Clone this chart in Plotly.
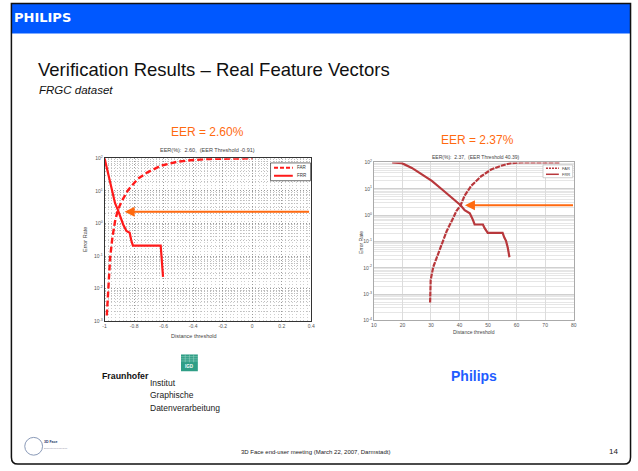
import math
import plotly.graph_objects as go

W, H = 638, 471
def px(x): return x / W
def py(y): return 1 - y / H

# ---------------- data (error rates in %) ----------------
left_thr_far = [-0.985, -0.974, -0.962, -0.947, -0.929, -0.91, -0.885, -0.841, -0.775, -0.709, -0.62, -0.51, -0.40, -0.289, -0.179, 0.0]
left_far = [0.0015, 0.019, 0.093, 0.37, 1.17, 2.6, 4.7, 10.5, 23.4, 37, 59, 78, 89, 95.5, 97.7, 100]
left_thr_frr = [-1.0, -0.974, -0.951, -0.929, -0.91, -0.89, -0.874, -0.852, -0.83, -0.819, -0.808, -0.62, -0.616, -0.612, -0.608, -0.604]
left_frr = [100, 29.5, 9.3, 4.2, 2.6, 1.48, 0.93, 0.59, 0.52, 0.30, 0.21, 0.21, 0.12, 0.06, 0.045, 0.023]

right_thr_far = [29.7, 29.9, 30.8, 32.0, 33.7, 35.5, 37.2, 38.9, 40.39, 41.8, 44.1, 47.6, 51.1, 54.6, 58.0, 61.5, 75]
right_far = [0.00048, 0.0035, 0.0107, 0.025, 0.079, 0.245, 0.575, 1.41, 2.37, 5.5, 12.9, 30, 54, 75, 94, 100, 100]
right_thr_frr = [16.4, 19.8, 23.3, 26.8, 30.3, 33.7, 37.2, 40.39, 41.8, 43.6, 44.7, 45.3, 48.2, 48.8, 49.9, 55.1, 55.7, 56.3, 56.9, 57.5]
right_frr = [100, 94, 62, 35, 20, 9.8, 4.8, 2.37, 1.55, 1.17, 0.66, 0.44, 0.44, 0.32, 0.21, 0.21, 0.14, 0.105, 0.059, 0.025]

left_eer, left_eer_thr = 2.60, -0.91
right_eer, right_eer_thr = 2.37, 40.39

left_yticks = [1e-3, 1e-2, 1e-1, 1, 10, 100]
left_ytext = ["10<sup>-3</sup>", "10<sup>-2</sup>", "10<sup>-1</sup>", "10<sup>0</sup>", "10<sup>1</sup>", "10<sup>2</sup>"]
right_yticks = [1e-4, 1e-3, 1e-2, 1e-1, 1, 10, 100]
right_ytext = ["10<sup>-4</sup>"] + left_ytext
left_xticks = [-1, -0.8, -0.6, -0.4, -0.2, 0, 0.2, 0.4]
right_xticks = [10, 20, 30, 40, 50, 60, 70, 80]

FONT = "Liberation Sans, Arial, sans-serif"
RED = "#ff1a1a"
DRED = "#b8383c"
ORANGE = "#ff6a10"

fig = go.Figure()
fig.add_trace(go.Scatter(x=left_thr_far, y=left_far, mode="lines", name="FAR",
                         line=dict(color=RED, width=2.4, dash="6px,3px"), xaxis="x", yaxis="y"))
fig.add_trace(go.Scatter(x=left_thr_frr, y=left_frr, mode="lines", name="FRR",
                         line=dict(color=RED, width=2.2), xaxis="x", yaxis="y"))
fig.add_trace(go.Scatter(x=right_thr_far, y=right_far, mode="lines", name="FAR",
                         line=dict(color=DRED, width=2.2, dash="5px,1px"), xaxis="x2", yaxis="y2"))
fig.add_trace(go.Scatter(x=right_thr_frr, y=right_frr, mode="lines", name="FRR",
                         line=dict(color=DRED, width=2.2), xaxis="x2", yaxis="y2"))

tickf = dict(family=FONT, size=5, color="#555")
fig.update_layout(
    width=W, height=H, margin=dict(l=0, r=0, t=0, b=0),
    paper_bgcolor="white", plot_bgcolor="white", showlegend=False,
    xaxis=dict(domain=[px(102.7), px(311.7)], range=[-1, 0.4], tickvals=left_xticks,
               ticktext=["-1", "-0.8", "-0.6", "-0.4", "-0.2", "0", "0.2", "0.4"],
               tickfont=tickf, showline=True, mirror=True, linecolor="#333", linewidth=0.8,
               showgrid=True, gridcolor="#999", griddash="1px,2px", gridwidth=0.7, zeroline=False,
               minor=dict(dtick=0.025, showgrid=True, gridcolor="#cfcfcf", griddash="1px,2px", gridwidth=0.6),
               anchor="y"),
    yaxis=dict(domain=[py(322.3), py(157.3)], type="log", range=[-3, 2], tickvals=left_yticks,
               ticktext=left_ytext, tickfont=tickf, showline=True, mirror=True, linecolor="#333",
               linewidth=0.8, showgrid=True, gridcolor="#999", griddash="1px,2px", gridwidth=0.7,
               minor=dict(dtick="D1", showgrid=True, gridcolor="#bdbdbd", griddash="1px,2px", gridwidth=0.6),
               zeroline=False, anchor="x"),
    xaxis2=dict(domain=[px(375), px(577)], range=[10, 80], tickvals=right_xticks,
                tickfont=tickf, showline=True, mirror=True, linecolor="#aaa", linewidth=0.8,
                showgrid=True, gridcolor="#dcdcdc", gridwidth=0.8, zeroline=False, anchor="y2"),
    yaxis2=dict(domain=[py(321.5), py(161.5)], type="log", range=[-4, 2], tickvals=right_yticks,
                ticktext=right_ytext, tickfont=tickf, showline=True, mirror=True, linecolor="#aaa",
                linewidth=0.8, showgrid=True, gridcolor="#d0d0d0", gridwidth=0.8,
                minor=dict(dtick="D1", showgrid=True, gridcolor="#e6e6e6", gridwidth=0.8),
                zeroline=False, anchor="x2"),
)

shapes = []
ann = []
def text(x, y, t, size, color="#000", xanchor="center", bold=False, italic=False, family=FONT, angle=0, yanchor="middle"):
    if bold:
        t = "<b>" + t + "</b>"
    if italic:
        t = "<i>" + t + "</i>"
    ann.append(dict(x=px(x), y=py(y), xref="paper", yref="paper", text=t, showarrow=False,
                    xanchor=xanchor, yanchor=yanchor, textangle=angle, borderpad=0,
                    font=dict(family=family, size=size, color=color)))

# slide frame & header
shapes.append(dict(type="rect", xref="paper", yref="paper", x0=px(8.5), x1=px(634.5), y0=py(31), y1=py(0.5),
                   fillcolor="#0058ff", line=dict(width=0), layer="below"))
frame = "M %f,%f L %f,%f Q %f,%f %f,%f L %f,%f Q %f,%f %f,%f L %f,%f" % (
    px(8.5), py(0.5), px(8.5), py(460), px(8.5), py(467), px(15), py(467),
    px(628), py(467), px(634.5), py(467), px(634.5), py(460), px(634.5), py(0.5))
shapes.append(dict(type="path", xref="paper", yref="paper", path=frame + " Z",
                   line=dict(color="#111", width=1.5), layer="above"))
text(10, 15, "PHILIPS", 13, "white", "left", bold=True, family="DejaVu Sans, sans-serif")
text(34, 67, "Verification Results \u2013 Real Feature Vectors", 18.5, "#111", "left")
text(35, 88, "FRGC dataset", 11.5, "#111", "left", italic=True)

# chart headings
text(207, 131, "EER = 2.60%", 12, ORANGE)
text(480, 139, "EER = 2.37%", 12, ORANGE)
text(207, 149, "EER(%%):  %.2f,  (EER Threshold %.2f)" % (left_eer, left_eer_thr), 5.5, "#444")
text(478, 156, "EER(%%):  %.2f,  (EER Threshold %.2f)" % (right_eer, right_eer_thr), 5, "#444")
text(83, 240, "Error Rate", 5.5, "#444", angle=-90)
text(362, 243, "Error Rate", 5, "#444", angle=-90)
text(193, 337, "Distance threshold", 5.5, "#444")
text(476, 333, "Distance threshold", 5, "#444")

# arrows pointing at EER
ann.append(dict(x=-0.864, y=math.log10(2.3), ax=0.395, ay=math.log10(2.3), xref="x", yref="y",
                axref="x", ayref="y", text="", showarrow=True, arrowhead=2, arrowsize=1,
                arrowwidth=2, arrowcolor=ORANGE, standoff=0))
ann.append(dict(x=41.9, y=math.log10(right_eer), ax=80.3, ay=math.log10(right_eer), xref="x2", yref="y2",
                axref="x2", ayref="y2", text="", showarrow=True, arrowhead=2, arrowsize=1,
                arrowwidth=2, arrowcolor=ORANGE, standoff=0))

# legends (drawn as boxes)
shapes.append(dict(type="rect", xref="paper", yref="paper", x0=px(270.5), x1=px(311), y0=py(180), y1=py(162),
                   fillcolor="white", line=dict(color="#333", width=0.7)))
shapes.append(dict(type="line", xref="paper", yref="paper", x0=px(274), x1=px(293), y0=py(167), y1=py(167),
                   line=dict(color=RED, width=2, dash="4px,2px")))
shapes.append(dict(type="line", xref="paper", yref="paper", x0=px(274), x1=px(293), y0=py(175), y1=py(175),
                   line=dict(color=RED, width=2)))
text(296, 167, "FAR", 4.5, "#333", "left")
text(296, 175, "FRR", 4.5, "#333", "left")
shapes.append(dict(type="rect", xref="paper", yref="paper", x0=px(546), x1=px(576), y0=py(177), y1=py(164),
                   fillcolor="white", line=dict(color="#bbb", width=0.7)))
shapes.append(dict(type="line", xref="paper", yref="paper", x0=px(549), x1=px(562), y0=py(167.5), y1=py(167.5),
                   line=dict(color=DRED, width=1.5, dash="2px,1px")))
shapes.append(dict(type="line", xref="paper", yref="paper", x0=px(549), x1=px(562), y0=py(173.5), y1=py(173.5),
                   line=dict(color=DRED, width=1.5)))
text(564, 167.5, "FAR", 4, "#444", "left")
text(564, 173.5, "FRR", 4, "#444", "left")

# Fraunhofer IGD logo
shapes.append(dict(type="rect", xref="paper", yref="paper", x0=px(180), x1=px(197), y0=py(373), y1=py(356),
                   fillcolor="#2f9e86", line=dict(width=0)))
for k in range(1, 4):
    shapes.append(dict(type="line", xref="paper", yref="paper", x0=px(180 + k * 4.25), x1=px(180 + k * 4.25),
                       y0=py(364), y1=py(356), line=dict(color="#9fd8c8", width=0.5)))
    shapes.append(dict(type="line", xref="paper", yref="paper", x0=px(180), x1=px(197),
                       y0=py(356 + k * 2.2), y1=py(356 + k * 2.2), line=dict(color="#9fd8c8", width=0.5)))
text(188.5, 368.5, "IGD", 4.5, "white", bold=True)
text(99, 378, "Fraunhofer", 8.8, "#111", "left", bold=True)
text(148, 385, "Institut", 8.5, "#222", "left")
text(148, 397.5, "Graphische", 8.5, "#222", "left")
text(148, 410, "Datenverarbeitung", 8.5, "#222", "left")
text(476, 378, "Philips", 14, "#1f5cff", bold=True)

# footer
shapes.append(dict(type="circle", xref="paper", yref="paper", x0=px(22), x1=px(40), y0=py(458), y1=py(440),
                   line=dict(color="#8a9ab8", width=1)))
text(40, 445, "3D Face", 3.5, "#223366", "left", bold=True)
text(40, 451, "Biometrics Research", 2.5, "#99a", "left")
text(316, 455, "3D Face end-user meeting (March 22, 2007, Darmstadt)", 6, "#222")
text(617, 454, "14", 8, "#222")

fig.update_layout(shapes=shapes, annotations=ann)
fig.write_html("out.html", config={"displayModeBar": False},
               post_script="document.body.style.margin='0';document.body.style.overflow='hidden';")
